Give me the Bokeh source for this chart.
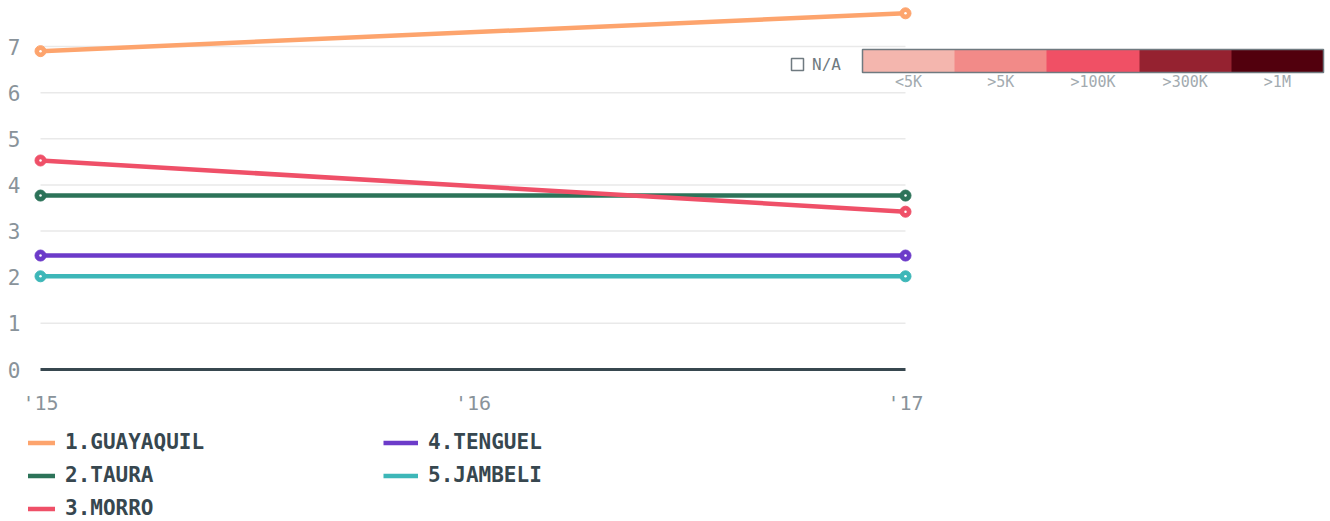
from bokeh.plotting import figure
from bokeh.layouts import column
from bokeh.models import (Range1d, FixedTicker, Legend, LegendItem, ColorBar,
                          LinearColorMapper)
from bokeh.embed import file_html
from bokeh.resources import INLINE

# ---- data ----
years = [2015, 2017]
year_ticks = [2015, 2016, 2017]
year_labels = ["'15", "'16", "'17"]
y_ticks = [0, 1, 2, 3, 4, 5, 6, 7]
names = ["1.GUAYAQUIL", "2.TAURA", "3.MORRO", "4.TENGUEL", "5.JAMBELI"]
guayaquil = [6.9, 7.72]
taura = [3.77, 3.77]
morro = [4.53, 3.42]
tenguel = [2.47, 2.47]
jambeli = [2.02, 2.02]
series = [guayaquil, taura, morro, tenguel, jambeli]
colors = ["#fda46d", "#2c7359", "#ef5068", "#6c3bc9", "#3db7b8"]
scale_labels = ["<5K", ">5K", ">100K", ">300K", ">1M"]
scale_colors = ["#f4b6ae", "#f28a88", "#f05065", "#952230", "#52000d"]
na_label = "N/A"

# ---- layout ----
W = 1330
H_MAIN, H_LEG = 420, 101
left_border = 28
px_per_year = 432.5
px_per_unit = 46.14
x0 = 2015 - 12 / px_per_year
x1 = x0 + (W - left_border) / px_per_year
y1 = 369 / px_per_unit
y0 = -9 / px_per_unit
frame_h = 378

FONT = "DejaVu Sans Mono"
TICK_COL = "#89939a"
NAN = float("nan")

p = figure(width=W, height=H_MAIN, output_backend="svg", toolbar_location=None,
           x_range=Range1d(x0, x1), y_range=Range1d(y0, y1),
           min_border_left=left_border, min_border_right=0, min_border_top=0,
           min_border_bottom=H_MAIN - frame_h)
p.outline_line_color = None
p.xgrid.grid_line_color = None
p.ygrid.grid_line_color = None
p.background_fill_color = None
p.border_fill_color = None

p.xaxis.ticker = FixedTicker(ticks=year_ticks)
p.xaxis.major_label_overrides = dict(zip(year_ticks, year_labels))
p.yaxis.ticker = FixedTicker(ticks=y_ticks)
for ax in (p.xaxis[0], p.yaxis[0]):
    ax.axis_line_color = None
    ax.major_tick_line_color = None
    ax.minor_tick_line_color = None
    ax.major_tick_out = 0
    ax.major_tick_in = 0
    ax.minor_tick_out = 0
    ax.minor_tick_in = 0
    ax.major_label_text_font = FONT
    ax.major_label_text_color = TICK_COL
p.xaxis.major_label_text_font_size = "20px"
p.yaxis.major_label_text_font_size = "21px"
p.xaxis.major_label_standoff = 12
p.yaxis.major_label_standoff = 8

# grid lines
gy = y_ticks[1:]
p.segment(x0=[year_ticks[0]] * len(gy), y0=gy, x1=[year_ticks[-1]] * len(gy), y1=gy,
          line_color="#e9e9e9", line_width=1.5)
p.segment(x0=[year_ticks[0]], y0=[y_ticks[0]], x1=[year_ticks[-1]], y1=[y_ticks[0]],
          line_color="#37474f", line_width=3)

for vals, c in zip(series, colors):
    p.line(years, vals, line_width=4.5, line_color=c)
    p.scatter(years, vals, size=11, fill_color=c, line_color=c)
    p.scatter(years, vals, size=2.5, fill_color="white", line_color=None)

# colour scale legend
mapper = LinearColorMapper(palette=scale_colors, low=-0.5, high=len(scale_colors) - 0.5)
idx = list(range(len(scale_labels)))
cb = ColorBar(color_mapper=mapper, orientation="horizontal", width=461, height=23,
              location=(834, 285), ticker=FixedTicker(ticks=idx),
              major_label_overrides=dict(zip(idx, scale_labels)),
              major_label_text_font=FONT, major_label_text_font_size="15px",
              major_label_text_color="#a3abb0", label_standoff=0,
              major_tick_line_color=None, minor_tick_line_color=None,
              major_tick_out=0, major_tick_in=0, minor_tick_out=0, minor_tick_in=0,
              bar_line_color="#6f7a80", bar_line_width=1.5,
              padding=0, margin=0, background_fill_alpha=0, border_line_color=None)
p.add_layout(cb)

dummy = p.scatter(x=[NAN], y=[NAN], marker="square", size=12, fill_color=None,
                  line_color="#6f7a80", line_width=1.5)
na = Legend(items=[LegendItem(label=na_label, renderers=[dummy])], location=(754, 299),
            glyph_width=30, glyph_height=30, label_height=30, label_standoff=0,
            padding=0, margin=0, border_line_color=None, background_fill_alpha=0,
            label_text_font=FONT, label_text_font_size="16px", label_text_color="#6f7a80")
p.add_layout(na)

# ---- series legend (separate strip below the chart) ----
q = figure(width=W, height=H_LEG, output_backend="svg", toolbar_location=None,
           x_range=Range1d(0, 1), y_range=Range1d(0, 1),
           x_axis_type=None, y_axis_type=None,
           min_border_left=0, min_border_right=0, min_border_top=0, min_border_bottom=0)
q.outline_line_color = None
q.background_fill_color = None
q.border_fill_color = None
q.xgrid.grid_line_color = None
q.ygrid.grid_line_color = None

items = []
for name, c in zip(names, colors):
    r = q.line(x=[NAN, NAN], y=[NAN, NAN], line_width=4.5, line_color=c)
    items.append(LegendItem(label=name, renderers=[r]))

leg = Legend(items=items, location=(-8, -3.5), orientation="vertical", nrows=3,
             glyph_width=35, glyph_height=33, label_height=33, label_width=318,
             label_standoff=10, spacing=0, padding=0, margin=0,
             border_line_color=None, background_fill_alpha=0,
             label_text_font=FONT, label_text_font_style="bold",
             label_text_font_size="21px", label_text_color="#37474f")
q.add_layout(leg)

open("out.html", "w").write(file_html(column(p, q, spacing=0), INLINE))
